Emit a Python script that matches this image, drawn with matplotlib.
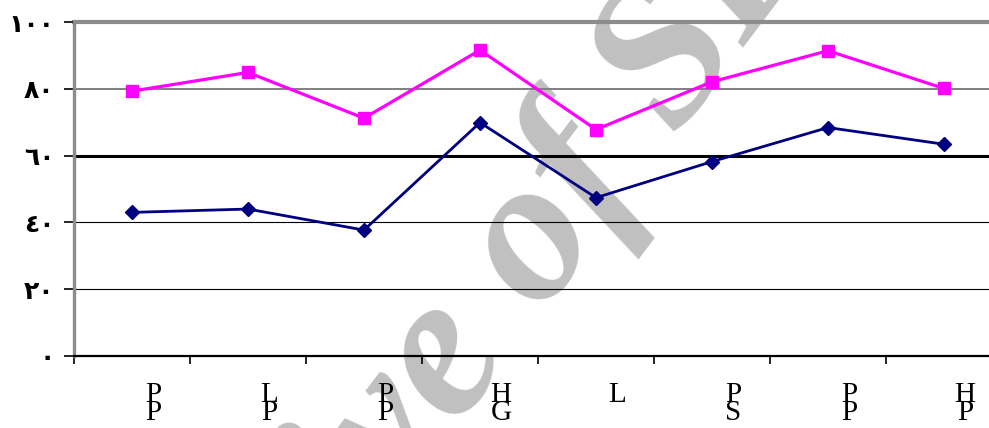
"""Two-series line chart with Arabic-Indic y ticks and a faint watermark."""
import matplotlib
matplotlib.use("Agg")
import matplotlib.pyplot as plt
import numpy as np

# values
top_labels = ["P", "L", "P", "H", "L", "P", "P", "H"]
bottom_labels = ["P", "P", "P", "G", "", "S", "P", "P"]
pink_values = [79.3, 84.9, 71.2, 91.6, 67.8, 82.1, 91.4, 80.1]
navy_values = [43.0, 44.0, 37.7, 69.9, 47.4, 58.2, 68.4, 63.4]
y_ticks = [0, 20, 40, 60, 80, 100]
y_tick_labels = ["٠", "٢٠", "٤٠", "٦٠", "٨٠", "١٠٠"]
watermark = "Archive of SID"

W, H = 989, 428
fig = plt.figure(figsize=(W / 100, H / 100), dpi=100)
fig.patch.set_facecolor("white")

# plot area runs past the right edge, as in the reference
ax = fig.add_axes([74 / W, (H - 356) / H, (1002 - 74) / W, (356 - 22) / H])
ax.set_facecolor("none")

fig.text(462 / W, 1 - 352 / H, watermark, fontsize=148, family="Liberation Serif",
         weight="bold", style="italic", color="#c0c0c0", rotation=53,
         rotation_mode="anchor", ha="center", va="center", zorder=-5)

x = np.arange(len(top_labels))
ax.set_xlim(-0.5, len(top_labels) - 0.5)
ax.set_ylim(0, 100)

# horizontal grid lines, each styled like the reference
ax.axhline(20, color="black", lw=0.8, zorder=1)
ax.axhline(40, color="black", lw=0.8, zorder=1)
ax.axhline(60, color="black", lw=2.2, zorder=1)
ax.axhline(80, color="#7f7f7f", lw=1.4, zorder=1)
ax.axhline(100, color="#8c8c8c", lw=3.0, zorder=1, clip_on=False)

ax.plot(x, pink_values, color="#ff00ff", lw=2.3, marker="s", ms=8.5,
        mec="#ff00ff", zorder=3)
ax.plot(x, navy_values, color="#000080", lw=2.0, marker="D", ms=7.5,
        mec="#000080", zorder=3)

for s in ("top", "right"):
    ax.spines[s].set_visible(False)
ax.spines["left"].set_color("#8c8c8c")
ax.spines["left"].set_linewidth(2.4)
ax.spines["bottom"].set_color("black")
ax.spines["bottom"].set_linewidth(1.6)

ax.set_yticks(y_ticks)
ax.set_yticklabels(y_tick_labels, family="DejaVu Sans", weight="bold", fontsize=18)
ax.tick_params(axis="y", length=7, width=1.2, pad=7, color="black")

ax.set_xticks(np.arange(-0.5, len(top_labels), 1.0))
ax.set_xticklabels([])
ax.tick_params(axis="x", length=6, width=1.2, color="black")

for i, (t, b) in enumerate(zip(top_labels, bottom_labels)):
    ax.annotate(t, xy=(i + 0.18, 0), xycoords=("data", "axes fraction"),
                xytext=(0, -19), textcoords="offset points", ha="center",
                va="top", family="Liberation Serif", fontsize=21)
    if b:
        ax.annotate(b, xy=(i + 0.18, 0), xycoords=("data", "axes fraction"),
                    xytext=(0, -32), textcoords="offset points", ha="center",
                    va="top", family="Liberation Serif", fontsize=21)

fig.savefig("out.png", dpi=100)
